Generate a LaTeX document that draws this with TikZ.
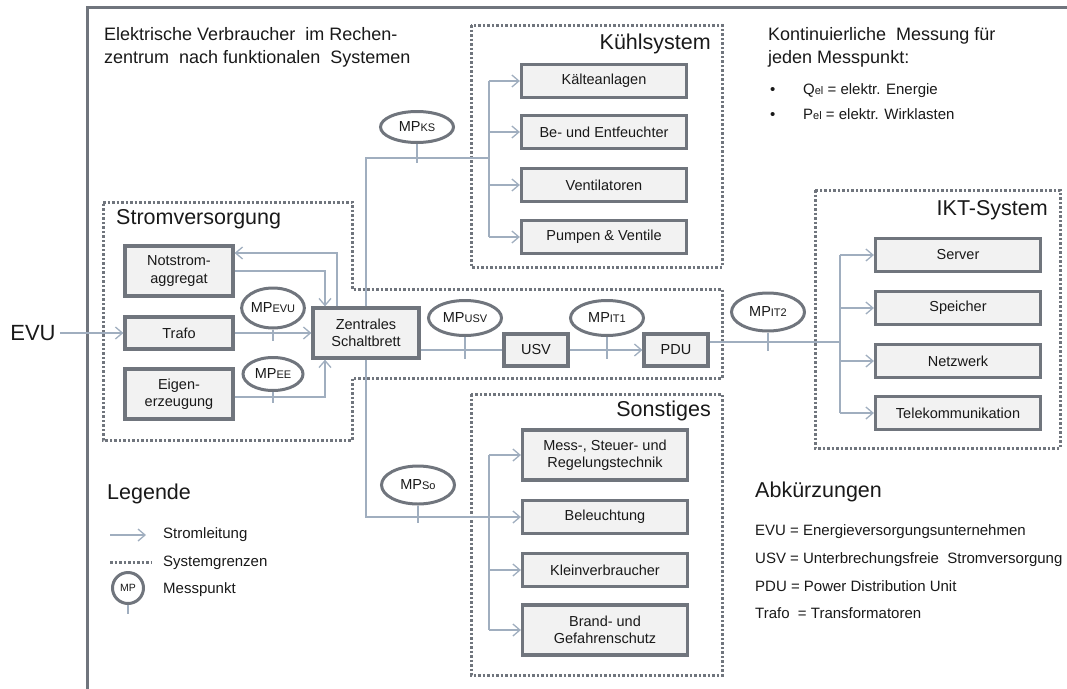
\documentclass[tikz,border=0pt]{standalone}
\usepackage{fontspec}
\setmainfont{Liberation Sans}
\usetikzlibrary{shapes.geometric,arrows.meta}
\definecolor{randgrau}{RGB}{112,117,125}
\definecolor{boxgrau}{RGB}{242,242,242}
\definecolor{leitung}{RGB}{160,174,191}
\definecolor{schrift}{RGB}{25,25,25}
\newcommand{\mpsub}[1]{{\fontsize{11}{12}\selectfont #1}}
\begin{document}
\begin{tikzpicture}[x=1pt,y=-1pt, text=schrift,
  block/.style={draw=randgrau, fill=boxgrau, line width=3.2pt, align=center, inner sep=0pt, font=\fontsize{14.5}{17.5}\selectfont},
  mp/.style={draw=randgrau, fill=white, ellipse, line width=3pt, inner sep=0pt, minimum width=73pt, minimum height=31pt, font=\fontsize{14.5}{17}\selectfont},
  grenze/.style={draw=randgrau, line width=3pt, dash pattern=on 2.5pt off 2pt},
  leit/.style={draw=leitung, line width=1.3pt},
  pfeil/.style={leit, -{Straight Barb[length=7pt,width=12pt]}},
  titel/.style={font=\fontsize{21.5}{25}\selectfont, inner sep=0pt},
  txt/.style={font=\fontsize{15}{18}\selectfont, inner sep=0pt}]
\useasboundingbox (0,0) rectangle (1067,688);
\draw[randgrau, line width=3pt] (87,690) -- (87,7) -- (1069,7);

% Systemgrenzen
\draw[grenze] (471,25) rectangle (722,267);
\draw[grenze] (103,202) -- (352,202) -- (352,289) -- (722,289) -- (722,378) -- (352,378) -- (352,440) -- (103,440) -- cycle;
\draw[grenze] (471,394) rectangle (722,675);
\draw[grenze] (815,190) rectangle (1060,448);

\node[anchor=north west, align=left, inner sep=0pt, font=\fontsize{18}{23}\selectfont] (titel) at (104,27) {Elektrische Verbraucher\ \ im Rechen-\\zentrum\ \ nach funktionalen\ \ Systemen};
\node[anchor=north west, align=left, inner sep=0pt, font=\fontsize{18}{23}\selectfont] (messung) at (768,27) {Kontinuierliche\ \ Messung für\\jeden Messpunkt:};
\node[txt, anchor=base west] (b1) at (770,94) {\textbullet};
\node[txt, anchor=base west] (qel) at (803,94) {Q\mpsub{el} = elektr. Energie};
\node[txt, anchor=base west] (b2) at (770,119) {\textbullet};
\node[txt, anchor=base west] (pel) at (803,119) {P\mpsub{el} = elektr. Wirklasten};

\node[titel, anchor=base east] (ks) at (711,49) {Kühlsystem};
\node[titel, anchor=base west] (sv) at (116,224) {Stromversorgung};
\node[titel, anchor=base east] (ikt) at (1048,215) {IKT-System};
\node[titel, anchor=base east] (so) at (711,416) {Sonstiges};

\node[font=\fontsize{22}{26}\selectfont, inner sep=4pt] (evu) at (33,333) {EVU};
\node[block, minimum width=108pt, minimum height=50pt] (nsa) at (179,271) {Notstrom-\\aggregat};
\node[block, minimum width=108pt, minimum height=32pt] (trafo) at (179,333) {Trafo};
\node[block, minimum width=108pt, minimum height=50pt] (eigen) at (179,394) {Eigen-\\erzeugung};
\node[block, minimum width=106pt, minimum height=50pt] (zsb) at (366,333) {Zentrales\\Schaltbrett};
\node[block, minimum width=64pt, minimum height=32pt] (usv) at (536,350) {USV};
\node[block, minimum width=64pt, minimum height=32pt] (pdu) at (676,350) {PDU};

\node[block, minimum width=165pt, minimum height=33pt] (kaelte) at (604,81) {Kälteanlagen};
\node[block, minimum width=165pt, minimum height=33pt] (entf) at (604,132) {Be- und Entfeuchter};
\node[block, minimum width=165pt, minimum height=33pt] (vent) at (604,185) {Ventilatoren};
\node[block, minimum width=165pt, minimum height=33pt] (pumpen) at (604,237) {Pumpen \& Ventile};

\node[block, minimum width=165pt, minimum height=33pt] (server) at (958,255) {Server};
\node[block, minimum width=165pt, minimum height=33pt] (speicher) at (958,308) {Speicher};
\node[block, minimum width=165pt, minimum height=33pt] (netz) at (958,361) {Netzwerk};
\node[block, minimum width=165pt, minimum height=33pt] (tele) at (958,413) {Telekommunikation};

\node[block, minimum width=165pt, minimum height=50pt] (msr) at (605,455) {Mess-, Steuer- und\\Regelungstechnik};
\node[block, minimum width=165pt, minimum height=33pt] (bel) at (605,517) {Beleuchtung};
\node[block, minimum width=165pt, minimum height=33pt] (klein) at (605,570) {Kleinverbraucher};
\node[block, minimum width=165pt, minimum height=50pt] (brand) at (605,630) {Brand- und\\Gefahrenschutz};

% Leitungen
\draw[pfeil] (evu) -- (trafo);
\draw[pfeil] (trafo) -- (zsb);
\draw[pfeil] (nsa.east) -| ([xshift=-41pt]zsb.north);
\draw[pfeil] ([xshift=-29pt]zsb.north) |- ([yshift=18pt]nsa.east);
\draw[pfeil] ([yshift=-3pt]eigen.east) -| ([xshift=-41pt]zsb.south);

\coordinate (ksbus) at (489,158);
\draw[leit] (zsb.north) |- (ksbus);
\draw[leit] (kaelte.west -| ksbus) -- (pumpen.west -| ksbus);
\foreach \n in {kaelte,entf,vent,pumpen}
  \draw[pfeil] (\n.west -| ksbus) -- (\n.west);

\coordinate (sobus) at (489,517);
\draw[pfeil] (zsb.south) |- (bel.west);
\draw[leit] (msr.west -| sobus) -- (brand.west -| sobus);
\foreach \n in {msr,klein,brand}
  \draw[pfeil] (\n.west -| sobus) -- (\n.west);

\draw[leit] (zsb.east |- usv.west) -- (usv.west);
\draw[pfeil] (usv) -- (pdu);

\coordinate (iktbus) at (840,342);
\draw[leit] ([yshift=8pt]pdu.east) -- (iktbus);
\draw[leit] (server.west -| iktbus) -- (tele.west -| iktbus);
\foreach \n in {server,speicher,netz,tele}
  \draw[pfeil] (\n.west -| iktbus) -- (\n.west);

% Messpunkte
\node[mp] (mpks) at (417,127) {MP\mpsub{KS}};
\node[mp, minimum width=60pt, minimum height=40pt] (mpevu) at (273,308) {MP\mpsub{EVU}};
\node[mp, minimum width=60pt, minimum height=33pt] (mpee) at (273,374) {MP\mpsub{EE}};
\node[mp, minimum height=35pt] (mpusv) at (465,318) {MP\mpsub{USV}};
\node[mp, minimum height=35pt] (mpit1) at (607,318) {MP\mpsub{IT1}};
\node[mp, minimum height=38pt] (mpit2) at (768,312) {MP\mpsub{IT2}};
\node[mp, minimum height=38pt] (mpso) at (418,485) {MP\mpsub{So}};
\foreach \m/\d in {mpks/19, mpevu/11, mpee/11, mpusv/22, mpit1/22, mpit2/18, mpso/17}
  \draw[leit] (\m.south) -- ++(0,\d);

% Legende
\node[titel, anchor=base west] (leg) at (107,499) {Legende};
\coordinate (la) at (110,535);
\coordinate (lb) at (146,535);
\draw[pfeil] (la) -- (lb);
\node[txt, anchor=base west] (l1) at (163,538) {Stromleitung};
\coordinate (lc) at (110,562);
\coordinate (ld) at (152,562);
\draw[grenze] (lc) -- (ld);
\node[txt, anchor=base west] (l2) at (163,566) {Systemgrenzen};
\node[mp, minimum width=31pt, minimum height=31pt, font=\fontsize{10.5}{12}\selectfont] (lmp) at (128,588) {MP};
\draw[leit] (lmp.south) -- ++(0,9);
\node[txt, anchor=base west] (l3) at (163,593) {Messpunkt};

% Abkuerzungen
\node[titel, anchor=base west] (abk) at (755,497) {Abkürzungen};
\node[txt, anchor=base west] (a1) at (755,535) {EVU = Energieversorgungsunternehmen};
\node[txt, anchor=base west] (a2) at (755,563) {USV = Unterbrechungsfreie\ \ Stromversorgung};
\node[txt, anchor=base west] (a3) at (755,591) {PDU = Power Distribution Unit};
\node[txt, anchor=base west] (a4) at (755,618) {Trafo\ \ = Transformatoren};
\end{tikzpicture}
\end{document}
